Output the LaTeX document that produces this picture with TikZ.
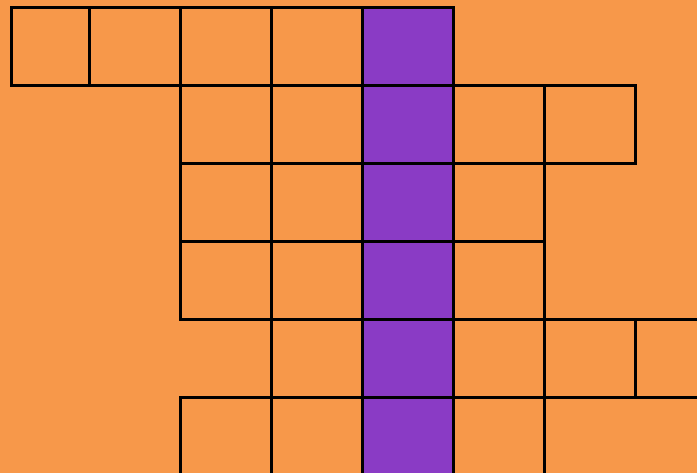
\documentclass[tikz,border=0pt]{standalone}
\definecolor{bgorange}{HTML}{F7984A}
\definecolor{colpurple}{HTML}{8A3BC5}
\tikzset{cell/.style={draw=black,line width=3pt,fill=bgorange},
         pcell/.style={cell,fill=colpurple}}
\begin{document}
\begin{tikzpicture}[x=1pt,y=-1pt]
\useasboundingbox (0,0) rectangle (697,473);
\fill[bgorange] (0,0) rectangle (697,473);
\begin{scope}
\clip (0,0) rectangle (697,473);
% row 1
\draw[cell] (11,8) rectangle (89,86);
\draw[cell] (89,8) rectangle (180,86);
\draw[cell] (180,8) rectangle (271,86);
\draw[cell] (271,8) rectangle (362,86);
% row 2
\draw[cell] (180,86) rectangle (271,164);
\draw[cell] (271,86) rectangle (362,164);
\draw[cell] (453,86) rectangle (544,164);
\draw[cell] (544,86) rectangle (635,164);
% row 3
\draw[cell] (180,164) rectangle (271,242);
\draw[cell] (271,164) rectangle (362,242);
\draw[cell] (453,164) rectangle (544,242);
% row 4
\draw[cell] (180,242) rectangle (271,320);
\draw[cell] (271,242) rectangle (362,320);
\draw[cell] (453,242) rectangle (544,320);
% row 5
\draw[cell] (271,320) rectangle (362,398);
\draw[cell] (453,320) rectangle (544,398);
\draw[cell] (544,320) rectangle (635,398);
\draw[cell] (635,320) rectangle (726,398);
% row 6
\draw[cell] (180,398) rectangle (271,476);
\draw[cell] (271,398) rectangle (362,476);
\draw[cell] (453,398) rectangle (544,476);
% purple column
\foreach \y in {8,86,164,242,320,398}
  \draw[pcell] (362,\y) rectangle (453,\y+78);
\end{scope}
\end{tikzpicture}
\end{document}
